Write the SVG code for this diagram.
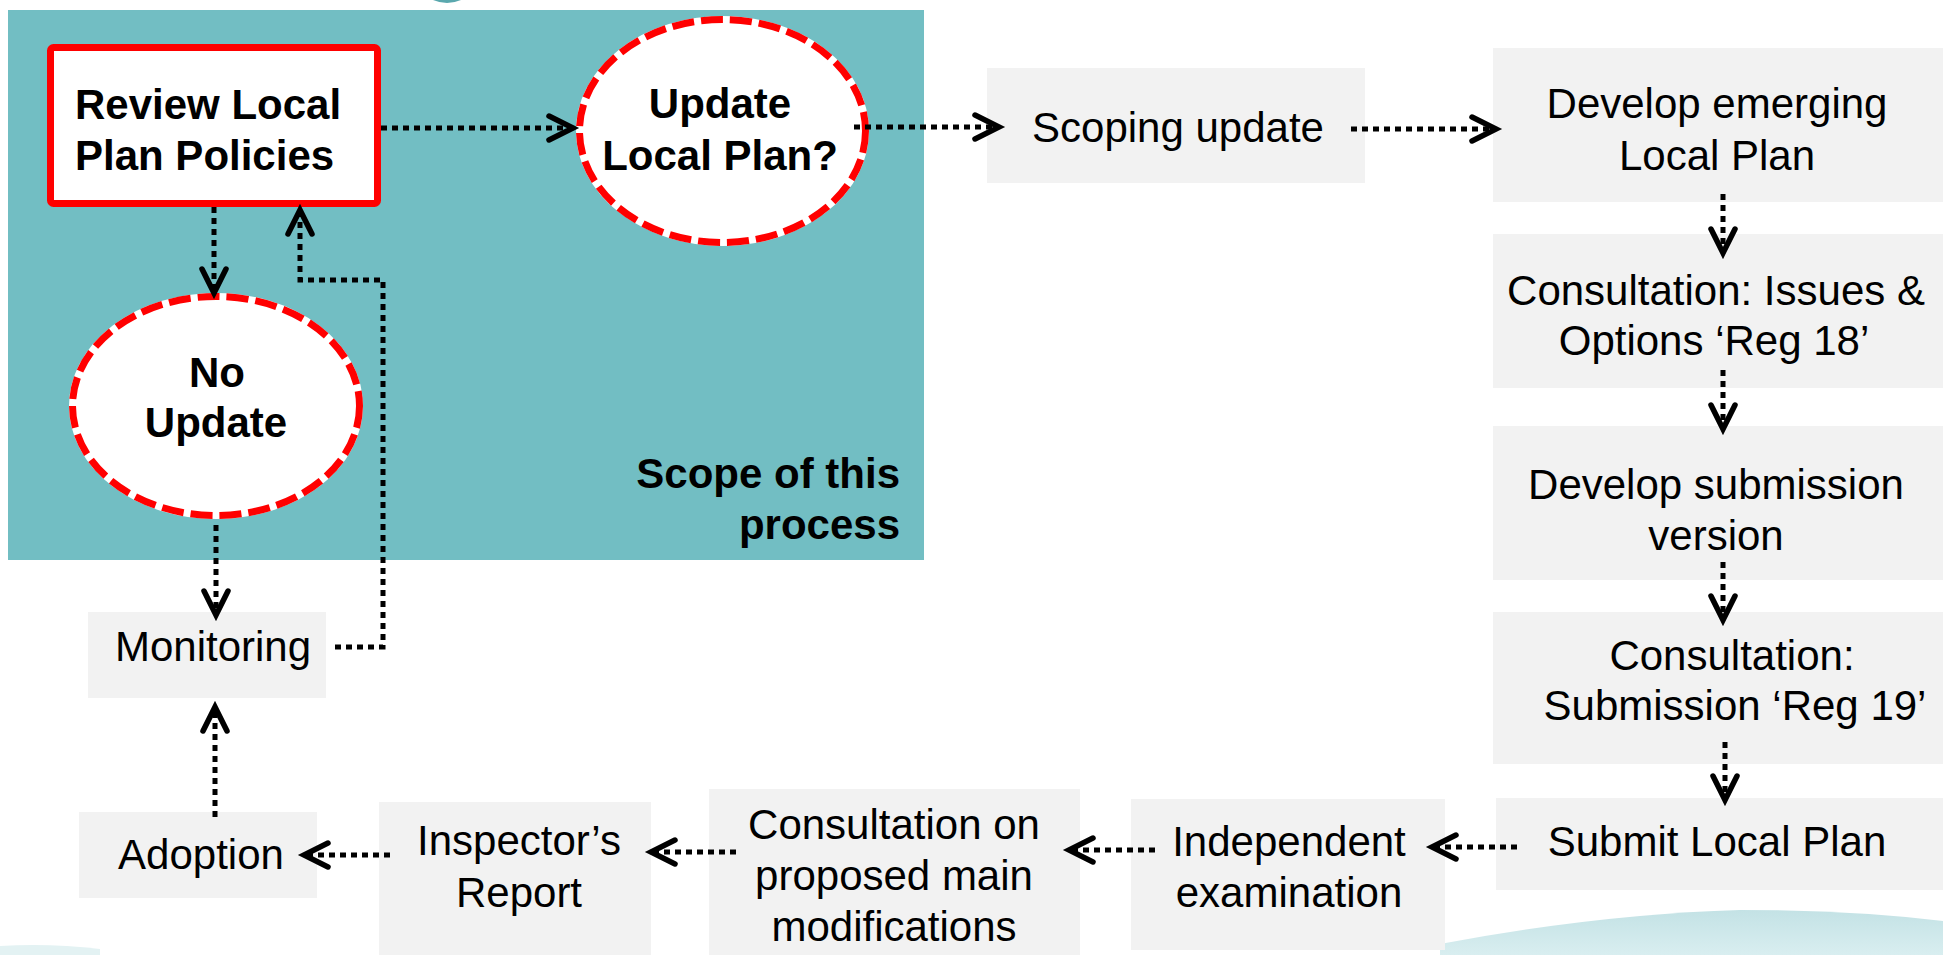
<svg xmlns="http://www.w3.org/2000/svg" width="1943" height="955" viewBox="0 0 1943 955">
<defs>
<marker id="arr" markerUnits="userSpaceOnUse" markerWidth="40" markerHeight="40" viewBox="-30 -20 40 40" refX="0" refY="0" orient="auto" overflow="visible">
<path d="M-24,-12 L0,0 L-24,12" fill="none" stroke="#000" stroke-width="5.5" stroke-dasharray="none" stroke-linecap="round" stroke-linejoin="miter"/>
</marker>
<linearGradient id="wave" x1="0" y1="0" x2="0" y2="1">
<stop offset="0" stop-color="#C3E2E5"/>
<stop offset="1" stop-color="#D9EEF0"/>
</linearGradient>
</defs>
<style>
.box{fill:#F2F2F2}
.t{font-family:"Liberation Sans",Arial,sans-serif;font-size:42px;fill:#000;text-anchor:middle}
.b{font-family:"Liberation Sans",Arial,sans-serif;font-size:42px;font-weight:bold;fill:#000}
.c{fill:none;stroke:#000;stroke-width:5;stroke-dasharray:6 5;marker-end:url(#arr)}
.ell{fill:#fff;stroke:#fff;stroke-width:7}
.red{fill:none;stroke:#FF0000;stroke-width:7;stroke-dasharray:22 7}
</style>
<rect width="1943" height="955" fill="#fff"/>
<path d="M1440,955 L1440,944 Q1600,914 1740,910 Q1850,910 1943,921 L1943,955 Z" fill="url(#wave)"/>
<path d="M0,955 L0,946 Q50,943 100,949 L100,955 Z" fill="#E3F2F3"/>
<path d="M433,0 Q447,6 461,0 Z" fill="#5AA8AE"/>
<rect id="scope" x="8" y="10" width="916" height="550" fill="#72BEC3"/>
<text class="b" x="900" y="488" text-anchor="end">Scope of this</text>
<text class="b" x="900" y="539" text-anchor="end">process</text>

<g id="review">
<rect x="50.5" y="47.5" width="327" height="156" rx="3" fill="#fff" stroke="#FF0000" stroke-width="7"/>
<text class="b" x="75" y="119">Review Local</text>
<text class="b" x="75" y="170">Plan Policies</text>
</g>
<g id="update">
<ellipse class="ell" cx="722.5" cy="131" rx="143" ry="111.5"/>
<ellipse class="red" cx="722.5" cy="131" rx="143" ry="111.5"/>
<text class="b" x="720" y="118" text-anchor="middle">Update</text>
<text class="b" x="720" y="170" text-anchor="middle">Local Plan?</text>
</g>
<g id="noupdate">
<ellipse class="ell" cx="216" cy="406" rx="143.5" ry="109.5"/>
<ellipse class="red" cx="216" cy="406" rx="143.5" ry="109.5"/>
<text class="b" x="217" y="387" text-anchor="middle">No</text>
<text class="b" x="216" y="437" text-anchor="middle">Update</text>
</g>
<g id="scoping">
<rect class="box" x="987" y="68" width="378" height="115"/>
<text class="t" x="1178" y="142">Scoping update</text>
</g>
<g id="develop">
<rect class="box" x="1493" y="48" width="480" height="154"/>
<text class="t" x="1717" y="118">Develop emerging</text>
<text class="t" x="1717" y="170">Local Plan</text>
</g>
<g id="reg18">
<rect class="box" x="1493" y="234" width="480" height="154"/>
<text class="t" x="1716" y="305">Consultation: Issues &amp;</text>
<text class="t" x="1714" y="355">Options ‘Reg 18’</text>
</g>
<g id="devsub">
<rect class="box" x="1493" y="426" width="480" height="154"/>
<text class="t" x="1716" y="499">Develop submission</text>
<text class="t" x="1716" y="550">version</text>
</g>
<g id="reg19">
<rect class="box" x="1493" y="612" width="480" height="152"/>
<text class="t" x="1732" y="670">Consultation:</text>
<text class="t" x="1735" y="720">Submission ‘Reg 19’</text>
</g>
<g id="submit">
<rect class="box" x="1496" y="798" width="480" height="92"/>
<text class="t" x="1717" y="856">Submit Local Plan</text>
</g>
<g id="independent">
<rect class="box" x="1131" y="799" width="314" height="151"/>
<text class="t" x="1289" y="856">Independent</text>
<text class="t" x="1289" y="907">examination</text>
</g>
<g id="mainmods">
<rect class="box" x="709" y="789" width="371" height="180"/>
<text class="t" x="894" y="839">Consultation on</text>
<text class="t" x="894" y="890">proposed main</text>
<text class="t" x="894" y="941">modifications</text>
</g>
<g id="inspector">
<rect class="box" x="379" y="802" width="272" height="170"/>
<text class="t" x="519" y="855">Inspector’s</text>
<text class="t" x="519" y="907">Report</text>
</g>
<g id="adoption">
<rect class="box" x="79" y="812" width="238" height="86"/>
<text class="t" x="201" y="869">Adoption</text>
</g>
<g id="monitoring">
<rect class="box" x="88" y="612" width="238" height="86"/>
<text class="t" x="213" y="661">Monitoring</text>
</g>

<g id="connectors">
<path class="c" d="M381,128 L573,128"/>
<path class="c" d="M854,127 L999,127"/>
<path class="c" d="M1351,129 L1496,129"/>
<path class="c" d="M1723,194 L1723,253"/>
<path class="c" d="M1723,370 L1723,429"/>
<path class="c" d="M1723,562 L1723,620"/>
<path class="c" d="M1725,742 L1725,800"/>
<path class="c" d="M1517,847 L1432,847"/>
<path class="c" d="M1155,850 L1069,850"/>
<path class="c" d="M736,852 L651,852"/>
<path class="c" d="M390,855 L304,855"/>
<path class="c" d="M215,817 L215,707"/>
<path class="c" d="M216,525 L216,615"/>
<path class="c" d="M214,207 L214,293"/>
<path class="c" d="M335,647 L383,647 L383,280 L300,280 L300,210"/>
</g>
</svg>
